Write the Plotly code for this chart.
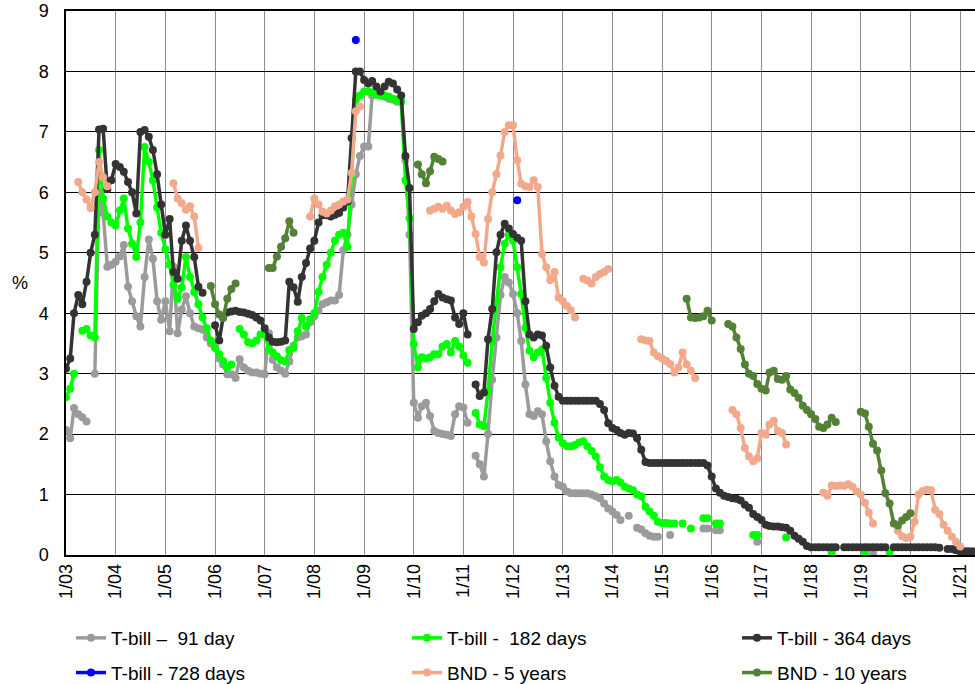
import pandas as pd
import plotly.graph_objects as go

N = None

# Monthly observations, Jan 2003 .. Apr 2021 (one row per year)
tbill_91 = [
    [2.07, 1.93, 2.43, 2.33, 2.28, 2.21, N, 3.0, 6.0, 5.66, 4.77, 4.8],
    [4.85, 4.94, 5.13, 4.44, 4.2, 3.95, 3.78, 4.6, 5.22, 4.9, 4.2, 3.89],
    [4.2, 3.7, 4.77, 3.67, 4.06, 4.28, 4.0, 3.78, 3.75, 3.73, 3.6, 3.5],
    [3.43, 3.25, 3.15, 2.99, 2.99, 2.93, 3.24, 3.1, 3.05, 3.02, 3.02, 3.0],
    [2.99, 3.67, 3.23, 3.1, 3.05, 3.0, 3.2, 3.46, 3.6, 3.62, 3.65, 3.85],
    [3.95, 4.04, 4.15, 4.18, 4.21, 4.21, 4.3, 5.04, 5.3, 5.8, 6.3, 6.6],
    [6.76, 6.76, 7.6, 7.62, 7.6, 7.58, 7.55, 7.53, 7.5, 7.5, 6.54, 5.3],
    [2.52, 2.27, 2.46, 2.52, 2.3, 2.05, 2.02, 2.0, 1.99, 1.97, 2.33, 2.46],
    [2.44, 2.19, N, 1.64, 1.5, 1.3, 2.0, 2.9, 3.6, 4.3, 4.6, 4.51],
    [4.32, 4.0, 3.54, 2.82, 2.33, 2.3, 2.38, 2.33, 1.88, 1.55, 1.3, 1.16],
    [1.13, 1.05, 1.02, 1.02, 1.02, 1.02, 1.02, 1.0, 0.97, 0.94, 0.85, 0.77],
    [0.72, 0.66, 0.58, N, 0.65, N, 0.45, 0.42, 0.36, 0.32, 0.3, 0.3],
    [N, N, 0.33, N, N, N, N, N, N, N, 0.44, 0.44],
    [N, 0.41, 0.41, N, N, N, N, N, N, N, N, 0.22],
    [N] * 12,
    [N] * 12,
    [N, N, N, 0.02, N, N, N, N, N, N, N, N],
    [N] * 12,
    [N, N, N, N],
]

tbill_182 = [
    [2.61, 2.75, 3.0, N, 3.71, 3.74, 3.63, 3.6, 6.7, 5.9, 5.6, 5.5],
    [5.45, 5.7, 5.9, 5.4, 5.15, 4.93, 5.5, 6.75, 6.5, 6.2, 5.75, 5.33],
    [5.06, 4.8, 4.47, 4.24, 4.43, 4.93, 4.6, 4.35, 4.15, 3.93, 3.75, 3.55],
    [3.43, 3.32, 3.21, 3.1, 3.15, N, 3.74, 3.65, 3.52, 3.5, 3.55, 3.65],
    [3.65, 3.4, 3.35, 3.29, 3.22, 3.2, 3.39, 3.43, 3.7, 3.92, 3.78, 3.9],
    [4.0, 4.35, 4.6, 4.8, 5.0, 5.2, 5.3, 5.33, 5.1, 6.26, 7.53, 7.6],
    [7.67, 7.67, 7.65, 7.62, 7.6, 7.6, 7.58, 7.55, 7.53, 7.5, 6.2, 5.57],
    [3.49, 3.1, 3.27, 3.25, 3.27, 3.32, 3.32, 3.45, 3.49, 3.35, 3.54, 3.45],
    [3.3, 3.18, N, 2.35, 2.16, 2.13, 2.71, 3.54, 4.2, 4.76, 5.15, 5.3],
    [5.2, 4.76, 4.32, 3.76, 3.38, 3.27, 3.35, 3.4, 2.93, 2.52, 2.19, 1.94],
    [1.85, 1.8, 1.8, 1.82, 1.86, 1.88, 1.8, 1.72, 1.63, 1.45, 1.3, 1.24],
    [1.22, 1.24, 1.2, 1.13, 1.1, 1.07, 1.0, 0.97, 0.8, 0.72, 0.65, 0.55],
    [0.53, 0.53, 0.52, 0.52, N, 0.52, N, 0.44, N, N, 0.61, 0.61],
    [N, 0.52, 0.52, N, N, N, N, N, N, N, 0.33, 0.33],
    [N, N, N, N, N, N, 0.29, N, N, N, N, N],
    [N, N, N, N, N, 0.04, N, N, N, N, N, N],
    [N, 0.04, N, N, N, N, N, 0.04, N, N, N, N],
    [N] * 12,
    [N, N, 0.03, N],
]

tbill_364 = [
    [3.08, 3.25, 4.0, 4.3, 4.15, 4.52, 5.0, 5.3, 7.04, 7.05, 6.05, 6.2],
    [6.47, 6.42, 6.34, 6.17, 6.0, 5.65, 7.0, 7.03, 6.92, 6.7, 6.3, 5.8],
    [5.3, 5.56, 4.68, 4.57, 5.2, 5.45, 5.2, 4.93, 4.44, 4.34, N, N],
    [3.8, 3.55, 3.93, 4.01, 4.03, 4.04, 4.02, 4.01, 3.99, 3.97, 3.93, 3.88],
    [3.75, 3.6, 3.53, 3.52, 3.53, 3.55, 4.52, 4.43, 4.19, 4.6, 4.83, 5.07],
    [5.2, 5.5, 5.62, 5.62, 5.6, 5.63, 5.66, 5.75, 5.85, 6.9, 8.0, 8.0],
    [7.86, 7.8, 7.84, 7.75, 7.67, 7.75, 7.83, 7.8, 7.7, 7.6, 6.6, 6.07],
    [3.74, 3.85, 3.96, 4.0, 4.07, 4.2, 4.32, 4.26, 4.23, 4.21, 3.93, 3.82],
    [4.0, 3.65, N, 2.82, 2.63, 2.69, 3.57, 4.07, 5.01, 5.3, 5.48, 5.4],
    [5.31, 5.25, 5.2, 4.2, 3.65, 3.6, 3.65, 3.63, 3.46, 3.1, 2.8, 2.62],
    [2.55, 2.55, 2.55, 2.55, 2.55, 2.55, 2.55, 2.55, 2.55, 2.5, 2.4, 2.18],
    [2.1, 2.07, 2.02, 1.99, 2.02, 2.01, 1.93, 1.74, 1.54, 1.52, 1.52, 1.52],
    [1.52, 1.52, 1.52, 1.52, 1.52, 1.52, 1.52, 1.52, 1.52, 1.52, 1.52, 1.48],
    [1.3, 1.1, 1.03, 0.98, 0.96, 0.94, 0.93, 0.9, 0.83, 0.78, 0.68, 0.63],
    [0.58, 0.5, 0.48, 0.47, 0.47, 0.46, 0.45, 0.4, 0.32, 0.27, 0.22, 0.15],
    [0.13, 0.13, 0.13, 0.13, 0.13, 0.13, 0.13, N, 0.13, 0.13, 0.13, 0.13],
    [0.13, 0.13, 0.13, 0.13, 0.13, 0.13, 0.13, N, 0.13, 0.13, 0.13, 0.13],
    [0.13, 0.13, 0.13, 0.13, 0.13, 0.13, 0.13, 0.12, N, 0.1, 0.1, 0.08],
    [0.06, 0.06, 0.06, 0.06],
]

tbill_728 = [
    [N] * 12, [N] * 12, [N] * 12, [N] * 12, [N] * 12,
    [N, N, N, N, N, N, N, N, N, N, 8.52, N],
    [N] * 12, [N] * 12, [N] * 12,
    [N, 5.87, N, N, N, N, N, N, N, N, N, N],
    [N] * 12, [N] * 12, [N] * 12, [N] * 12, [N] * 12, [N] * 12, [N] * 12, [N] * 12,
    [N, N, N, N],
]

bnd_5y = [
    [N, N, N, 6.17, 6.0, 5.88, 5.74, 6.0, 6.5, 6.25, 6.1, N],
    [N] * 12,
    [N, N, 6.15, 5.9, 5.82, 5.71, 5.77, 5.6, 5.08, N, N, N],
    [N] * 12,
    [N, N, N, N, N, N, N, N, N, N, N, 5.6],
    [5.9, 5.8, 5.68, 5.65, 5.7, 5.77, 5.8, 5.85, 5.88, 6.32, 7.34, 7.42],
    [N] * 12,
    [N, N, N, N, 5.7, 5.73, 5.76, 5.73, 5.78, 5.7, 5.64, 5.67],
    [5.76, 5.84, 5.6, 5.31, 4.93, 4.84, 5.56, 6.0, 6.3, 6.61, 7.0, 7.11],
    [7.11, 6.53, 6.14, 6.1, 6.09, 6.2, 6.09, 4.98, 4.76, 4.55, 4.68, 4.26],
    [4.2, 4.12, 4.05, 3.93, N, 4.57, 4.54, 4.49, 4.6, 4.65, 4.68, 4.73],
    [N, N, N, N, N, N, N, 3.57, 3.55, 3.54, 3.35, 3.29],
    [3.25, 3.21, 3.16, 3.02, 3.1, 3.35, 3.15, 3.05, 2.93, N, N, N],
    [N, N, N, N, N, 2.4, 2.33, 2.1, 1.77, 1.63, 1.55, 1.6],
    [2.02, 1.99, 2.16, 2.22, 2.05, 2.02, 1.83, N, N, N, N, N],
    [N, N, N, 1.03, 0.98, 1.15, 1.14, 1.15, 1.14, 1.17, 1.13, 1.05],
    [1.0, 0.86, 0.7, 0.52, N, N, N, N, N, 0.4, 0.31, 0.28],
    [0.3, 0.55, 1.0, 1.06, 1.08, 1.07, 0.75, 0.68, 0.5, 0.4, 0.3, 0.22],
    [0.14, N, N, N],
]

bnd_10y = [
    [N] * 12,
    [N] * 12,
    [N, N, N, N, N, N, N, N, N, N, N, 4.45],
    [4.15, 3.98, 3.92, 4.24, 4.4, 4.49, N, N, N, N, N, N],
    [N, 4.75, 4.75, 4.94, 5.1, 5.24, 5.52, 5.33, N, N, N, N],
    [N] * 12,
    [N] * 12,
    [N, 6.46, 6.3, 6.15, 6.35, 6.59, 6.55, 6.51, N, N, N, N],
    [N] * 12,
    [N] * 12,
    [N] * 12,
    [N] * 12,
    [N, N, N, N, N, N, 4.24, 3.93, 3.92, 3.93, 3.95, 4.04],
    [3.88, N, N, N, 3.82, 3.78, 3.6, 3.41, 3.15, 3.0, 2.96, 2.83],
    [2.75, 2.72, 3.02, 3.05, 2.91, 2.9, 2.96, 2.74, 2.68, 2.6, 2.47, 2.4],
    [2.33, 2.25, 2.12, 2.1, 2.16, 2.27, 2.2, N, N, N, N, N],
    [2.37, 2.34, 2.12, 1.84, 1.73, 1.4, 1.02, 0.85, 0.52, 0.49, 0.57, 0.63],
    [0.69, N, N, N, N, N, N, N, N, N, N, N],
    [N, N, N, N],
]

series_names = ["T-bill \u2013\u00a0 91 day", "T-bill -\u00a0 182 days", "T-bill - 364 days",
                "T-bill - 728 days", "BND - 5 years", "BND - 10 years"]
series_colors = ["#9B9B9B", "#00FF00", "#333333", "#0000FF", "#F2A98B", "#538135"]
# legend column each series sits in (3 columns, 2 rows)
series_legend = ["legend", "legend2", "legend3", "legend", "legend2", "legend3"]

tick_years = list(range(2003, 2022))
tick_text = ["1/%02d" % (y % 100) for y in tick_years]


def flat(rows):
    out = []
    for r in rows:
        out.extend(r)
    return out


all_series = [tbill_91, tbill_182, tbill_364, tbill_728, bnd_5y, bnd_10y]
n = len(flat(tbill_91))
dates = pd.date_range("2003-01-01", periods=n, freq="MS")

FONT = "Liberation Sans, Arial, sans-serif"

fig = go.Figure()
for i, (name, color, rows, lg) in enumerate(zip(series_names, series_colors, all_series, series_legend)):
    vals = flat(rows)
    fig.add_trace(go.Scatter(
        x=dates, y=vals, name=name, mode="lines+markers",
        line=dict(color=color, width=3.5),
        marker=dict(color=color, size=8),
        connectgaps=False, legend=lg, legendgroup="g%d" % i,
    ))

W, H = 975, 684
ML, MR, MT, MB = 66, 0, 11, 129
PW = W - ML - MR


def legend_box(px):
    return dict(
        orientation="v", xref="paper", yref="paper",
        x=(px - ML) / PW, xanchor="left",
        y=(H - MB - 619) / (H - MT - MB), yanchor="top",
        font=dict(family=FONT, size=19, color="black"),
        itemwidth=30, tracegroupgap=7, bgcolor="rgba(0,0,0,0)",
    )


fig.update_layout(
    width=W, height=H,
    margin=dict(l=ML, r=MR, t=MT, b=MB, autoexpand=False),
    paper_bgcolor="white", plot_bgcolor="white",
    font=dict(family=FONT, size=18, color="black"),
    showlegend=True,
    legend=legend_box(71),
    legend2=legend_box(407),
    legend3=legend_box(737),
    annotations=[dict(text="%", x=-46 / PW, xref="paper", xanchor="center",
                      y=4.5, yref="y", showarrow=False,
                      font=dict(family=FONT, size=18))],
)

fig.update_xaxes(
    type="date",
    range=["2003-01-01", "2021-04-20"],
    tickvals=[pd.Timestamp(y, 1, 1) for y in tick_years],
    ticktext=tick_text,
    tickangle=-90,
    tickfont=dict(family=FONT, size=18),
    showgrid=True, gridcolor="#8C8C8C", gridwidth=1,
    showline=True, linecolor="black", linewidth=1.5, mirror=True,
    ticks="", zeroline=False, automargin=False,
)
fig.update_yaxes(
    range=[0, 9],
    tickvals=list(range(0, 10)),
    tickfont=dict(family=FONT, size=18),
    showgrid=True, gridcolor="black", gridwidth=1,
    showline=True, linecolor="black", linewidth=1.5,
    ticks="", zeroline=False, automargin=False,
    ticklabelstandoff=12,
)

fig.write_html(
    "out.html",
    config={"displayModeBar": False},
    post_script="document.body.style.margin='0';document.body.style.overflow='hidden';",
)
